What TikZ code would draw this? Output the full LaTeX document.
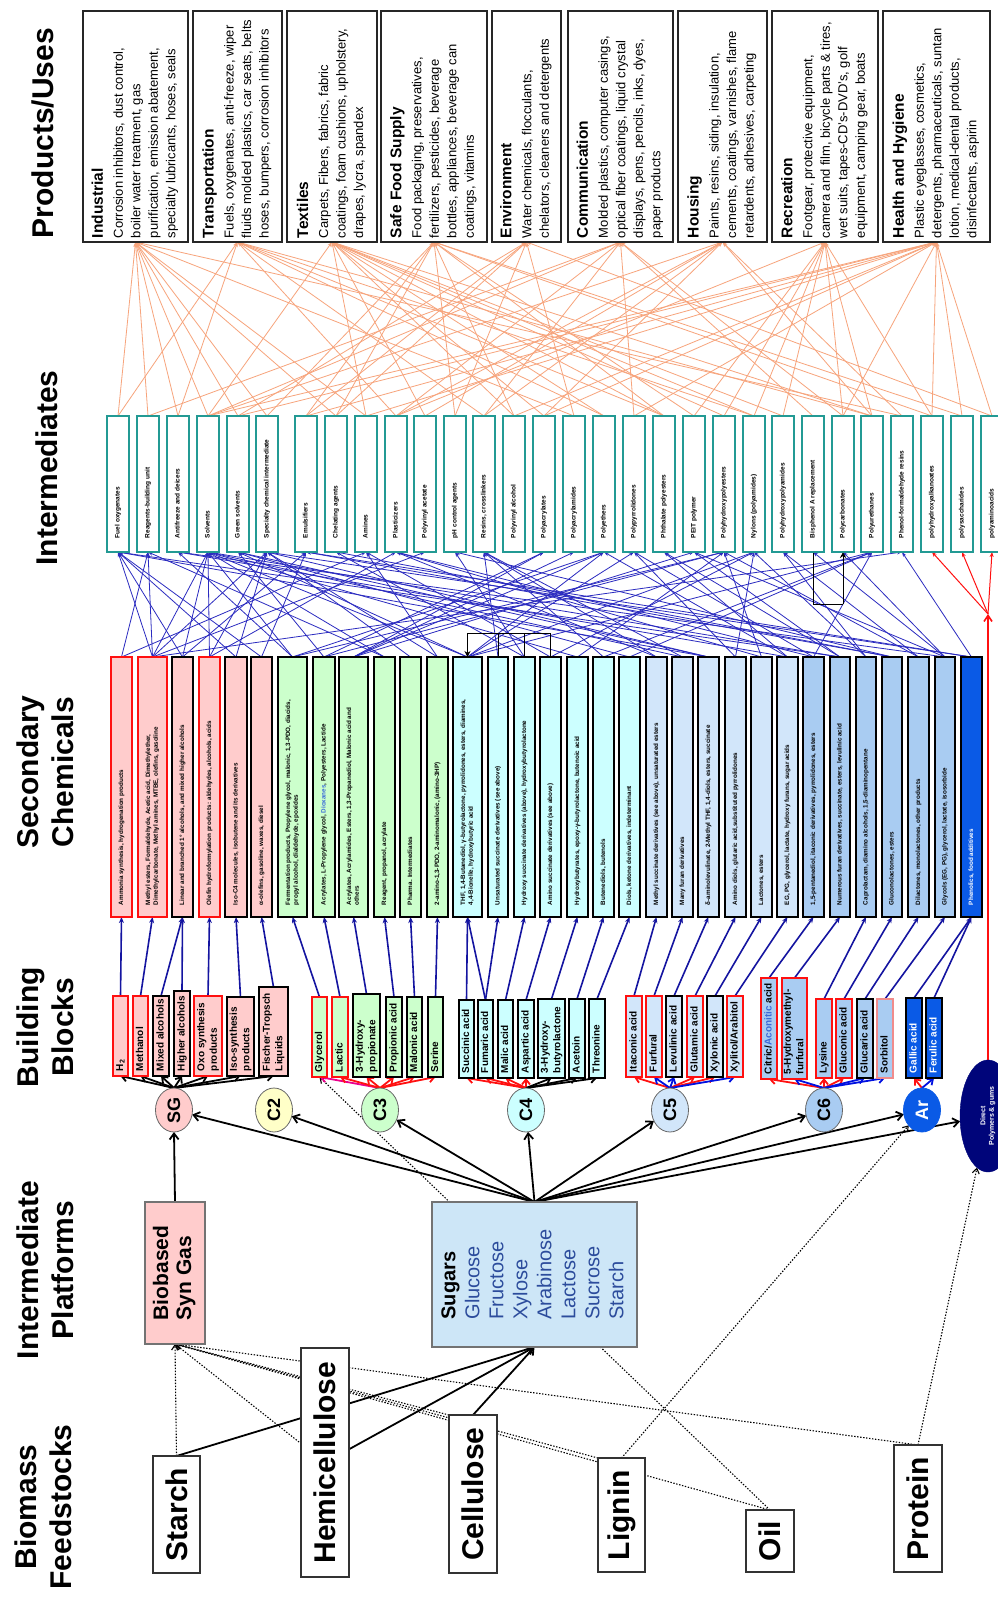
\documentclass[tikz,border=0pt]{standalone}
\usepackage{fontspec}
\setmainfont{Liberation Sans}
\usetikzlibrary{shapes.geometric,arrows.meta,calc}
\pgfdeclarelayer{back}
\pgfdeclarelayer{bg}
\pgfsetlayers{back,bg,main}

\definecolor{pinkf}{HTML}{FFCCCC}
\definecolor{greenf}{HTML}{CCFFCC}
\definecolor{cyanf}{HTML}{CCFFFF}
\definecolor{cfivef}{HTML}{D2E6FA}
\definecolor{csixf}{HTML}{A9CCF2}
\definecolor{arf}{HTML}{0A5AE6}
\definecolor{ctwof}{HTML}{FFFFC8}
\definecolor{sugarf}{HTML}{CDE6F7}
\definecolor{sugartxt}{HTML}{2C4C9C}
\definecolor{tealc}{HTML}{239A94}
\definecolor{orangel}{HTML}{F7A47C}
\definecolor{bluel}{HTML}{2B2BC0}
\definecolor{darkbl}{HTML}{1414A0}
\definecolor{navyf}{HTML}{00057A}
\definecolor{redc}{HTML}{FF1010}
\definecolor{softred}{HTML}{F08C8C}
\definecolor{dioxc}{HTML}{3A6AD8}
\definecolor{bluearr}{HTML}{0010E0}

% rotated, bottom-aligned text block
\newcommand{\sidetext}[2]{\rotatebox{90}{\makebox[#1][l]{\begin{tabular}{@{}l@{}}#2\end{tabular}}}}
\newcommand{\uptext}[1]{\rotatebox{90}{\begin{tabular}{@{}l@{}}#1\end{tabular}}}
\newcommand{\uptextc}[1]{\rotatebox{90}{\begin{tabular}{@{}c@{}}#1\end{tabular}}}
% box given by left, top, right, bottom
\newcommand{\boxnode}[7]{\node[#1, minimum width={(#5)-(#3)}, minimum height={(#6)-(#4)}] (#2) at ({((#3)+(#5))/2},{((#4)+(#6))/2}) {#7};}
\newcommand{\secbox}[5]{\boxnode{sec,#4}{#1}{#2}{657}{#3}{917}{\sidetext{236pt}{#5}}}
\newcommand{\bbbox}[7]{\boxnode{bb,#6}{#1}{#2}{#3}{#4}{#5}{\sidetext{\dimexpr#5pt-#3pt-10pt\relax}{#7}}}
\newcommand{\prodhead}[1]{{\fontsize{15.5}{17.5}\selectfont\bfseries #1}}

\tikzset{
  every node/.style={inner sep=0pt, outer sep=0pt},
  title/.style={font=\fontsize{30}{35}\selectfont\bfseries},
  prod/.style={draw=black!85, line width=2pt, fill=white, font=\fontsize{13}{17.5}\selectfont},
  inter/.style={draw=tealc, line width=1.8pt, fill=white, font=\fontsize{6.5}{7.5}\selectfont\bfseries},
  sec/.style={line width=2pt, font=\fontsize{6.3}{7.6}\selectfont\bfseries},
  bb/.style={line width=1.8pt, font=\fontsize{10}{12.5}\selectfont\bfseries},
  plat/.style={ellipse, draw=black!60, line width=0.8pt, minimum width=37pt, minimum height=44pt, font=\fontsize{18}{18}\selectfont\bfseries},
  platbox/.style={draw=black!55, line width=1.2pt},
  feed/.style={draw=black!80, line width=1.5pt, fill=white, font=\fontsize{30}{30}\selectfont\bfseries},
  blk/.style={line width=1.8pt, -{Straight Barb[length=6pt,width=9pt]}},
  fan/.style={line width=1.8pt, -{Straight Barb[length=5pt,width=8pt]}},
  bbline/.style={draw=darkbl, line width=1.6pt, -{Stealth[length=6pt,width=5pt]}},
  secline/.style={draw=bluel, line width=0.8pt, -{Stealth[length=5pt,width=3.5pt]}},
  useline/.style={draw=orangel, line width=0.8pt, -{Stealth[length=5pt,width=3.5pt]}},
  dots/.style={line width=1.1pt, dash pattern=on 1.4pt off 1.6pt, -{Straight Barb[length=5pt,width=7pt]}},
}

\begin{document}
\begin{tikzpicture}[x=1pt,y=-1pt]
\useasboundingbox (0,0) rectangle (998,1599);
\begin{pgfonlayer}{back}
\fill[white] (0,0) rectangle (998,1599);
\end{pgfonlayer}

% ---------- column titles ----------
\node[title] (tprod) at (43,133) {\rotatebox{90}{Products/Uses}};
\node[title] (tint) at (47,468) {\rotatebox{90}{Intermediates}};
\node[title] (tsec) at (49,772) {\uptextc{Secondary\\Chemicals}};
\node[title] (tbb) at (49,1027) {\uptextc{Building\\Blocks}};
\node[title] (tplat) at (49,1270) {\uptextc{Intermediate\\Platforms}};
\node[title] (tfeed) at (47,1507) {\uptextc{Biomass\\Feedstocks}};

% ---------- products / uses ----------
\boxnode{prod}{p1}{83}{11}{188}{242}{\sidetext{223pt}{\prodhead{Industrial}\\[2.5pt]Corrosion inhibitors, dust control,\\boiler water treatment, gas\\purification, emission abatement,\\specialty lubricants, hoses, seals}}
\boxnode{prod}{p2}{193}{11}{282}{242}{\sidetext{223pt}{\prodhead{Transportation}\\[2.5pt]Fuels, oxygenates, anti-freeze, wiper\\fluids molded plastics, car seats, belts\\hoses, bumpers, corrosion inhibitors}}
\boxnode{prod}{p3}{287}{11}{377}{242}{\sidetext{223pt}{\prodhead{Textiles}\\[2.5pt]Carpets, Fibers, fabrics, fabric\\coatings, foam cushions, upholstery,\\drapes, lycra, spandex}}
\boxnode{prod}{p4}{381}{11}{487}{242}{\sidetext{223pt}{\prodhead{Safe Food Supply}\\[2.5pt]Food packaging, preservatives,\\fertilizers, pesticides, beverage\\bottles, appliances, beverage can\\coatings, vitamins}}
\boxnode{prod}{p5}{492}{11}{561}{242}{\sidetext{223pt}{\prodhead{Environment}\\[2.5pt]Water chemicals, flocculants,\\chelators, cleaners and detergents}}
\boxnode{prod}{p6}{568}{11}{673}{242}{\sidetext{223pt}{\prodhead{Communication}\\[2.5pt]Molded plastics, computer casings,\\optical fiber coatings, liquid crystal\\displays, pens, pencils, inks, dyes,\\paper products}}
\boxnode{prod}{p7}{678}{11}{767}{242}{\sidetext{223pt}{\prodhead{Housing}\\[2.5pt]Paints, resins, siding, insulation,\\cements, coatings, varnishes, flame\\retardents, adhesives, carpeting}}
\boxnode{prod}{p8}{772}{11}{878}{242}{\sidetext{223pt}{\prodhead{Recreation}\\[2.5pt]Footgear, protective equipment,\\camera and film, bicycle parts \& tires,\\wet suits, tapes-CD's-DVD's, golf\\equipment, camping gear, boats}}
\boxnode{prod}{p9}{883}{11}{990}{242}{\sidetext{223pt}{\prodhead{Health and Hygiene}\\[2.5pt]Plastic eyeglasses, cosmetics,\\detergents, pharmaceuticals, suntan\\lotion, medical-dental products,\\disinfectants, aspirin}}

% ---------- intermediates ----------
\foreach \n/\l/\t in {1/107/Fuel oxygenates, 2/137/Reagents-building unit, 3/167/Antifreeze and deicers,
  4/197/Solvents, 5/227/Green solvents, 6/256/Specialty chemical intermediate, 7/295/Emulsifiers,
  8/325/Chelating agents, 9/355/Amines, 10/385/Plasticizers, 11/414/Polyvinyl acetate,
  12/444/pH control agents, 13/473/{Resins, crosslinkers}, 14/503/Polyvinyl alcohol,
  15/533/Polyacrylates, 16/563/Polyacrylamides, 17/593/Polyethers, 18/623/Polypyrrolidones,
  19/653/Phthalate polyesters, 20/683/PEIT polymer, 21/713/Polyhydroxypolyesters,
  22/743/Nylons (polyamides), 23/772/Polyhydroxypolyamides, 24/802/Bisphenol A replacement,
  25/832/Polycarbonates, 26/861/Polyurethanes, 27/891/Phenol-formaldehyde resins,
  28/921/polyhydroxyalkanoates, 29/951/polysaccharides, 30/981/polyaminoacids}
  {\boxnode{inter}{i\n}{\l}{416}{\l+22}{552}{\sidetext{108pt}{\t}}}

% ---------- secondary chemicals ----------
\secbox{s1}{111}{132}{fill=pinkf,draw=redc}{Ammonia synthesis, hydrogenation products}
\secbox{s2}{138}{167}{fill=pinkf,draw=redc}{Methyl esters, Formaldehyde, Acetic acid, Dimethylether,\\Dimethylcarbonate, Methyl amines, MTBE, olefins, gasoline}
\secbox{s3}{172}{193}{fill=pinkf,draw=black}{Linear and branched 1° alcohols, and mixed higher alcohols}
\secbox{s4}{199}{220}{fill=pinkf,draw=redc}{Olefin hydroformylation products: aldehydes, alcohols, acids}
\secbox{s5}{225}{247}{fill=pinkf,draw=black}{Iso-C4 molecules, isobutene and its derivatives}
\secbox{s6}{251}{272}{fill=pinkf,draw=black}{α-olefins, gasoline, waxes, diesel}
\secbox{s7}{278}{307}{fill=greenf,draw=black}{Fermentation products, Propylene glycol, malonic, 1,3-PDO, diacids,\\propyl alcohol, dialdehyde, epoxides}
\secbox{s8}{313}{335}{fill=greenf,draw=black}{Acrylates, L-Propylene glycol, {\color{dioxc}Dioxanes}, Polyesters, Lactide}
\secbox{s9}{339}{368}{fill=greenf,draw=black}{Acrylates, Acrylamides, Esters, 1,3-Propanediol, Malonic acid and\\others}
\secbox{s10}{374}{395}{fill=greenf,draw=black}{Reagent, propanol, acrylate}
\secbox{s11}{400}{421}{fill=greenf,draw=black}{Pharma. Intermediates}
\secbox{s12}{427}{448}{fill=greenf,draw=black}{2-amino-1,3-PDO, 2-aminomalonic, (amino-3HP)}
\secbox{s13}{453}{482}{fill=cyanf,draw=black}{THF, 1,4-Butanediol, γ-butyrolactone, pyrrolidones, esters, diamines,\\4,4-Bionelle, hydroxybutyric acid}
\secbox{s14}{488}{508}{fill=cyanf,draw=black}{Unsaturated succinate derivatives (see above)}
\secbox{s15}{514}{535}{fill=cyanf,draw=black}{Hydroxy succinate derivatives (above), hydroxybutyrolactone}
\secbox{s16}{540}{561}{fill=cyanf,draw=black}{Amino succinate derivatives (see above)}
\secbox{s17}{567}{588}{fill=cyanf,draw=black}{Hydroxybutyrates, epoxy-γ-butyrolactone, butenoic acid}
\secbox{s18}{593}{614}{fill=cyanf,draw=black}{Butenediols, butenols}
\secbox{s19}{619}{640}{fill=cyanf,draw=black}{Diols, ketone derivatives, indeterminant}
\secbox{s20}{646}{667}{fill=cfivef,draw=black}{Methyl succinate derivatives (see above), unsaturated esters}
\secbox{s21}{672}{693}{fill=cfivef,draw=black}{Many furan derivatives}
\secbox{s22}{698}{719}{fill=cfivef,draw=black}{δ-aminolevulinate, 2-Methyl THF, 1,4-diols, esters, succinate}
\secbox{s23}{725}{746}{fill=cfivef,draw=black}{Amino diols, glutaric acid,substituted pyrrolidones}
\secbox{s24}{751}{772}{fill=cfivef,draw=black}{Lactones, esters}
\secbox{s25}{777}{798}{fill=cfivef,draw=black}{EG, PG, glycerol, lactate, hydroxy furans, sugar acids}
\secbox{s26}{803}{824}{fill=csixf,draw=black}{1,5-pentanediol, itaconic derivatives, pyrrolidones, esters}
\secbox{s27}{830}{850}{fill=csixf,draw=black}{Numerous furan derivatives, succinate, esters, levulinic acid}
\secbox{s28}{856}{876}{fill=csixf,draw=black}{Caprolactam, diamino alcohols, 1,5-diaminopentane}
\secbox{s29}{882}{902}{fill=csixf,draw=black}{Gluconolactones, esters}
\secbox{s30}{908}{929}{fill=csixf,draw=black}{Dilactones, monolactones, other products}
\secbox{s31}{935}{955}{fill=csixf,draw=black}{Glycols (EG, PG), glycerol, lactate, isosorbide}
\secbox{s32}{961}{982}{fill=arf,draw=black,text=white}{Phenolics, food additives}

% ---------- building blocks ----------
\bbbox{h2}{113}{996}{128}{1076}{fill=pinkf,draw=redc}{H\textsubscript{2}}
\bbbox{meoh}{133}{996}{148}{1076}{fill=pinkf,draw=redc}{Methanol}
\bbbox{mixalc}{153}{996}{169}{1076}{fill=pinkf,draw=black}{Mixed alcohols}
\bbbox{highalc}{174}{991}{190}{1076}{fill=pinkf,draw=black}{Higher alcohols}
\bbbox{oxo}{194}{996}{222}{1076}{fill=pinkf,draw=redc}{Oxo synthesis\\products}
\bbbox{iso}{227}{997}{254}{1076}{fill=pinkf,draw=black}{Iso-synthesis\\products}
\bbbox{ft}{259}{987}{288}{1076}{fill=pinkf,draw=black}{Fischer-Tropsch\\Liquids}
\bbbox{glyc}{312}{997}{327}{1077}{fill=greenf,draw=redc}{Glycerol}
\bbbox{lactic}{332}{997}{348}{1077}{fill=greenf,draw=redc}{Lactic}
\bbbox{hp3}{353}{994}{380}{1077}{fill=greenf,draw=black}{3-Hydroxy-\\propionate}
\bbbox{propac}{386}{997}{402}{1077}{fill=greenf,draw=black}{Propionic acid}
\bbbox{malon}{407}{997}{422}{1077}{fill=greenf,draw=black}{Malonic acid}
\bbbox{serine}{428}{997}{443}{1077}{fill=greenf,draw=black}{Serine}
\bbbox{succ}{459}{1000}{474}{1078}{fill=cyanf,draw=black}{Succinic acid}
\bbbox{fum}{478}{1000}{493}{1078}{fill=cyanf,draw=black}{Fumaric acid}
\bbbox{malic}{498}{1000}{513}{1078}{fill=cyanf,draw=black}{Malic acid}
\bbbox{asp}{518}{1000}{534}{1078}{fill=cyanf,draw=black}{Aspartic acid}
\bbbox{hbl}{538}{999}{565}{1078}{fill=cyanf,draw=black}{3-Hydroxy-\\butyrolactone}
\bbbox{acetoin}{569}{999}{585}{1078}{fill=cyanf,draw=black}{Acetoin}
\bbbox{threo}{589}{999}{605}{1078}{fill=cyanf,draw=black}{Threonine}
\bbbox{itac}{626}{996}{642}{1077}{fill=cfivef,draw=redc}{Itaconic acid}
\bbbox{furf}{646}{996}{662}{1077}{fill=cfivef,draw=redc}{Furfural}
\bbbox{levul}{666}{996}{682}{1077}{fill=cfivef,draw=black}{Levulinic acid}
\bbbox{glut}{687}{996}{703}{1077}{fill=cfivef,draw=redc}{Glutamic acid}
\bbbox{xylon}{707}{996}{723}{1077}{fill=cfivef,draw=black}{Xylonic acid}
\bbbox{xylit}{727}{996}{743}{1077}{fill=cfivef,draw=redc}{Xylitol/Arabitol}
\bbbox{citric}{761}{978}{777}{1079}{fill=csixf,draw=redc}{Citric/{\color{dioxc}Aconitic} acid}
\bbbox{hmf}{782}{978}{807}{1079}{fill=csixf,draw=redc}{5-Hydroxymethyl-\\furfural}
\bbbox{lys}{816}{999}{832}{1078}{fill=csixf,draw=redc}{Lysine}
\bbbox{glucon}{836}{999}{852}{1078}{fill=csixf,draw=redc}{Gluconic acid}
\bbbox{glucar}{857}{999}{873}{1078}{fill=csixf,draw=black}{Glucaric acid}
\bbbox{sorb}{877}{999}{893}{1078}{fill=csixf,draw=softred}{Sorbitol}
\bbbox{gallic}{906}{998}{922}{1078}{fill=arf,draw=black,text=white}{Gallic acid}
\bbbox{ferul}{926}{998}{942}{1078}{fill=arf,draw=black,text=white}{Ferulic acid}

% ---------- platform circles ----------
\node[plat, fill=pinkf] (sg) at (174,1110) {\rotatebox{90}{SG}};
\node[plat, fill=ctwof] (c2) at (274,1110) {\rotatebox{90}{C2}};
\node[plat, fill=greenf] (c3) at (380,1110) {\rotatebox{90}{C3}};
\node[plat, fill=cyanf] (c4) at (526,1110) {\rotatebox{90}{C4}};
\node[plat, fill=cfivef] (c5) at (670,1110) {\rotatebox{90}{C5}};
\node[plat, fill=csixf] (c6) at (824,1110) {\rotatebox{90}{C6}};
\node[plat, fill=arf, text=white, draw=arf] (ar) at (922,1110) {\rotatebox{90}{Ar}};
\node[ellipse, fill=navyf, draw=navyf, minimum width=56pt, minimum height=112pt, text=white,
      font=\fontsize{7}{8.5}\selectfont\bfseries] (dpoly) at (988,1116) {\uptextc{Direct\\Polymers \& gums}};

% ---------- intermediate platforms ----------
\boxnode{platbox, fill=pinkf, font=\fontsize{21}{23}\selectfont\bfseries}{syn}{145}{1202}{205}{1344}{\uptext{Biobased\\Syn Gas}}
\boxnode{platbox, fill=sugarf, font=\fontsize{20}{24}\selectfont}{sug}{432}{1202}{637}{1347}{\uptext{\textbf{Sugars}\\\color{sugartxt}Glucose\\\color{sugartxt}Fructose\\\color{sugartxt}Xylose\\\color{sugartxt}Arabinose\\\color{sugartxt}Lactose\\\color{sugartxt}Sucrose\\\color{sugartxt}Starch}}

% ---------- feedstocks ----------
\boxnode{feed}{starch}{153}{1456}{200}{1573}{\rotatebox{90}{Starch}}
\boxnode{feed}{hemi}{301}{1348}{349}{1577}{\rotatebox{90}{Hemicellulose}}
\boxnode{feed}{cell}{449}{1415}{497}{1573}{\rotatebox{90}{Cellulose}}
\boxnode{feed}{lignin}{598}{1458}{645}{1572}{\rotatebox{90}{Lignin}}
\boxnode{feed}{oil}{746}{1510}{794}{1572}{\rotatebox{90}{Oil}}
\boxnode{feed}{protein}{894}{1445}{942}{1572}{\rotatebox{90}{Protein}}

\coordinate (brA) at (0,633);
\coordinate (brB) at (0,604);
\coordinate (dp) at (988,614);

\begin{pgfonlayer}{bg}
% feedstocks to platforms
\draw[blk] (starch.north) -- (sug.south);
\draw[blk] (hemi.center) -- (sug.south);
\draw[blk] (cell.north) -- (sug.south);
\draw[dots] (starch.north) -- (syn.south);
\draw[dots] (hemi.center) -- (syn.south);
\draw[dots] (cell.north west) -- (syn.south);
\draw[dots] (lignin.north west) -- (syn.south);
\draw[dots] (oil.north) -- (syn.south);
\draw[dots] (protein.north) -- (syn.south);
\draw[dots] (oil.north) -- (glyc.south);
\draw[dots] (lignin.north) -- (ar);
\draw[dots] (protein.north) -- (dpoly);

% platforms to building-block groups
\draw[blk] (syn.north) -- (sg.south);
\foreach \c in {sg,c2,c3,c4,c5,c6,ar,dpoly} \draw[blk] (sug.north) -- (\c);

% groups to building blocks
\foreach \b in {h2,meoh,mixalc,highalc,oxo,iso,ft} \draw[fan,black] (sg.north) -- (\b.south);
\draw[fan,magenta] (c3.north) -- (glyc.south);
\foreach \b in {lactic,hp3,propac,malon,serine} \draw[fan,redc] (c3.north) -- (\b.south);
\foreach \b in {succ,fum,malic,asp} \draw[fan,redc] (c4.north) -- (\b.south);
\foreach \b in {hbl,acetoin,threo} \draw[fan,black] (c4.north) -- (\b.south);
\foreach \b in {itac,glut,xylon} \draw[fan,redc] (c5.north) -- (\b.south);
\foreach \b in {furf,levul,xylit} \draw[fan,bluearr] (c5.north) -- (\b.south);
\foreach \b in {citric,lys,glucon} \draw[fan,redc] (c6.north) -- (\b.south);
\foreach \b in {hmf,glucar,sorb} \draw[fan,bluearr] (c6.north) -- (\b.south);
\draw[fan,redc] (ar.north) -- (gallic.south);
\draw[fan,bluearr] (ar.north) -- (ferul.south);

% building blocks to secondary chemicals
\foreach \a/\b in {h2/s1, meoh/s2, mixalc/s3, highalc/s3, oxo/s4, iso/s5, ft/s6,
  glyc/s7, lactic/s8, hp3/s9, propac/s10, malon/s11, serine/s12,
  succ/s13, fum/s13, fum/s14, malic/s15, asp/s16, hbl/s17, acetoin/s18, threo/s19,
  itac/s20, furf/s21, levul/s22, glut/s23, xylon/s24, xylit/s25,
  citric/s26, hmf/s27, lys/s28, glucon/s29, glucar/s30, sorb/s31, gallic/s32, ferul/s32}
  \draw[bbline] (\a.north) -- (\b.south);

% secondary chemicals to intermediates
\foreach \a/\b in {s1/i2, s1/i9, s2/i1, s2/i2, s2/i4, s2/i6, s2/i11, s2/i27,
  s3/i1, s3/i4, s3/i7, s4/i4, s4/i6, s4/i10, s5/i1, s5/i6, s6/i1, s6/i7,
  s7/i3, s7/i4, s7/i17, s7/i21, s8/i5, s8/i15, s8/i21, s9/i15, s9/i16, s9/i17, s9/i20,
  s10/i2, s10/i4, s11/i6, s12/i9, s12/i6,
  s13/i4, s13/i5, s13/i17, s13/i18, s13/i22, s13/i26, s14/i13, s15/i8, s15/i12,
  s16/i9, s16/i22, s17/i4, s17/i21, s18/i13, s18/i26, s19/i5, s19/i26,
  s20/i10, s20/i13, s21/i4, s21/i13, s22/i1, s22/i5, s22/i6, s23/i18, s23/i22,
  s24/i10, s24/i21, s25/i3, s25/i17, s25/i19, s26/i10, s26/i18, s26/i26,
  s27/i1, s27/i4, s27/i19, s27/i20, s28/i22, s28/i23, s29/i7, s29/i8, s29/i12,
  s30/i21, s30/i23, s31/i3, s31/i20, s31/i24, s31/i25, s32/i6, s32/i7, s32/i27}
  \draw[secline] (\a.north) -- (\b.south);

% intermediates to products and uses
\foreach \a/\b in {i1/p1, i1/p2, i2/p1, i2/p6, i3/p2, i3/p1, i4/p1, i4/p3, i4/p6, i4/p7, i4/p9,
  i5/p1, i5/p5, i5/p9, i6/p1, i6/p4, i7/p4, i7/p5, i7/p9, i8/p5, i8/p4, i8/p1,
  i9/p1, i9/p3, i9/p9, i10/p2, i10/p6, i10/p7, i10/p8, i11/p3, i11/p7, i12/p4, i12/p5,
  i13/p2, i13/p6, i13/p7, i14/p3, i14/p4, i14/p9, i15/p3, i15/p7, i15/p9, i16/p1, i16/p5,
  i17/p2, i17/p3, i18/p6, i18/p9, i19/p2, i19/p3, i19/p4, i20/p4, i20/p8, i21/p3, i21/p8,
  i22/p2, i22/p3, i22/p8, i23/p3, i23/p8, i24/p6, i25/p6, i25/p8, i25/p9,
  i26/p2, i26/p3, i26/p7, i26/p8, i27/p1, i27/p7, i28/p4, i28/p8, i28/p9,
  i29/p4, i29/p9, i30/p5, i30/p9}
  \draw[useline] (\a.north) -- (\b.south);

% direct polymers route
\draw[redc, line width=1.6pt, -{Straight Barb[length=6pt,width=8pt]}] (dpoly.north) -- (dp);
\foreach \b in {i28,i29,i30} \draw[redc, line width=1pt, -{Stealth[length=5pt,width=4pt]}] (dp) -- (\b.south);

% succinate derivative bracket
\draw[line width=1pt] (s16.north) -- (s16.north |- brA) -- (s13.north |- brA);
\draw[line width=1pt] (s14.north) -- (s14.north |- brA);
\draw[line width=1pt] (s15.north) -- (s15.north |- brA);
\draw[line width=1pt, -{Stealth[length=6pt,width=6pt]}] (s13.north |- brA) -- (s13.north);

% bisphenol bracket
\draw[line width=1pt] (i24.south) -- (i24.south |- brB) -- (i25.south |- brB);
\draw[line width=1pt, -{Stealth[length=6pt,width=6pt]}] (i25.south |- brB) -- (i25.south);
\end{pgfonlayer}
\end{tikzpicture}
\end{document}
